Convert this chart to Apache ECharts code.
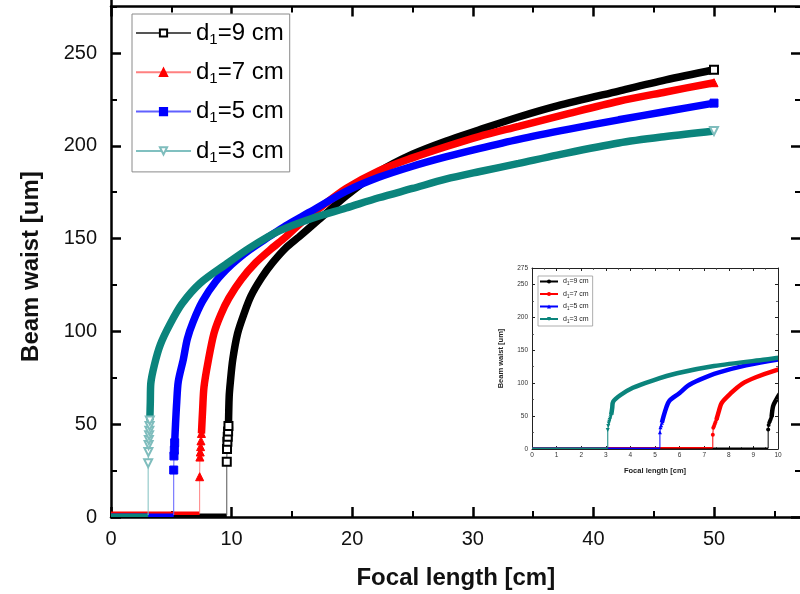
<!DOCTYPE html>
<html><head><meta charset="utf-8">
<script src="https://cdn.jsdelivr.net/npm/echarts@6/dist/echarts.min.js"></script>
<style>html,body{margin:0;padding:0;background:#fff}#c{width:800px;height:594px}</style>
</head><body><div id="c"></div>
<script>
// ---------- DATA ----------
const seriesKeys = ['d9', 'd7', 'd5', 'd3'];
const seriesDistances = ['9', '7', '5', '3'];
const xTitle = 'Focal length [cm]';
const yTitle = 'Beam waist [um]';

// d1 = 9 cm
const d9Flat = [[0, 1], [9.6, 1]];
const d9Jump = [[9.6, 1], [9.6, 29.8], [9.62, 36.6], [9.65, 40.6], [9.68, 43.3], [9.71, 46], [9.74, 49]];
const d9Band = [[9.74, 49], [9.8, 65], [9.9, 73], [10.1, 85], [10.5, 99], [11, 109], [11.6, 119], [12.5, 129], [13.4, 137], [14.5, 145], [15.6, 151], [17.2, 160], [19.5, 173], [22.2, 186], [25, 195.5], [27.75, 202.5], [30.5, 208.5], [33.8, 215.5], [37, 221.5], [42.1, 229.5], [46, 235.5], [50, 241]];
// d1 = 7 cm
const d7Flat = [[0, 2], [7.35, 2]];
const d7Jump = [[7.35, 2], [7.35, 21.7], [7.37, 32.3], [7.4, 35], [7.43, 37.9], [7.46, 41], [7.5, 45]];
const d7Band = [[7.5, 45], [7.6, 58], [7.71, 70], [8.06, 84], [8.54, 99], [9.1, 109], [9.78, 118], [10.8, 128], [12, 137], [13.2, 144], [14.5, 151], [16, 160], [17.2, 166], [19.5, 177], [22.2, 186.5], [25, 193.5], [27.75, 199.5], [30.5, 205], [33.8, 210.5], [38, 217.5], [42.1, 224], [46, 229], [50, 234]];
// d1 = 5 cm
const d5Flat = [[0, 1], [5.2, 1]];
const d5Jump = [[5.2, 1], [5.2, 25.3], [5.22, 32.9], [5.25, 36], [5.28, 40]];
const d5Band = [[5.28, 40], [5.35, 50], [5.45, 62], [5.58, 73], [6.0, 85], [6.33, 96], [6.8, 105], [7.57, 116], [8.7, 127], [10, 136], [11.5, 144], [13.1, 151], [14.5, 157], [16.4, 164], [19.5, 175.5], [22.2, 183], [25, 189], [27.75, 194], [30.5, 198.5], [33.8, 203.5], [38, 209], [42.1, 214], [46, 218.5], [50, 223]];
// d1 = 3 cm
const d3Flat = [[0, 1], [3.08, 1]];
const d3Jump = [[3.08, 1], [3.08, 29], [3.1, 35], [3.12, 38.8], [3.14, 41.5], [3.16, 44], [3.18, 46.5], [3.2, 49], [3.22, 52]];
const d3Band = [[3.22, 52], [3.26, 62], [3.3, 72], [3.6, 82], [4.1, 93], [4.9, 104], [5.9, 115], [7.4, 126], [9.5, 136], [11.5, 145], [13.9, 154], [16.7, 161], [19.5, 166.5], [22.2, 172], [25, 177], [27.75, 182], [30.5, 186], [33.8, 190.5], [37, 195], [42.1, 201.5], [46, 205], [50, 208]];

const dataSets = {
  d9: {flat: d9Flat, jump: d9Jump, band: d9Band},
  d7: {flat: d7Flat, jump: d7Jump, band: d7Band},
  d5: {flat: d5Flat, jump: d5Jump, band: d5Band},
  d3: {flat: d3Flat, jump: d3Jump, band: d3Band}
};

// ---------- STYLE ----------
const FONT = 'Liberation Sans';
const styles = {
  d9: {color: '#000000', light: '#555555', symbol: 'emptyRect', rot: 0, mColor: '#000000',
       iSymbol: 'circle', iRot: 0},
  d7: {color: '#ff0000', light: '#ff8080', symbol: 'triangle', rot: 0, mColor: '#ff0000',
       iSymbol: 'circle', iRot: 0},
  d5: {color: '#0000ff', light: '#6060ff', symbol: 'rect', rot: 0, mColor: '#0000ff',
       iSymbol: 'triangle', iRot: 0},
  d3: {color: '#0b847c', light: '#80c0c0', symbol: 'emptyTriangle', rot: 180, mColor: '#7fbdbd',
       iSymbol: 'triangle', iRot: 180}
};

function legendText(name) {
  const k = name.replace('i', 'd');
  const idx = seriesKeys.indexOf(k);
  return '{m|d}{s|1}{m|=' + seriesDistances[idx] + ' cm}';
}

const series = [];
seriesKeys.forEach(k => {
  const s = styles[k], d = dataSets[k];
  series.push({
    name: k + '_flat', type: 'line', xAxisIndex: 0, yAxisIndex: 0, data: d.flat,
    symbol: 'none', lineStyle: {color: s.color, width: 3.5}, animation: false, silent: true
  });
  series.push({
    name: k, type: 'line', xAxisIndex: 0, yAxisIndex: 0,
    data: d.jump.map((p, i) => i === 0 ? {value: p, symbol: 'none'} : p),
    symbol: s.symbol, symbolSize: 8, symbolRotate: s.rot, showSymbol: true,
    itemStyle: {color: s.mColor, borderColor: s.mColor, borderWidth: 1},
    lineStyle: {color: s.light, width: 1}, animation: false, silent: true
  });
  series.push({
    name: k + '_band', type: 'line', xAxisIndex: 0, yAxisIndex: 0,
    data: d.band.map((p, i) => i === d.band.length - 1 ?
      {value: p, symbol: s.symbol, symbolSize: 8, symbolRotate: s.rot,
       itemStyle: {color: s.mColor, borderColor: s.mColor}} : p),
    symbol: 'none', showSymbol: true, smooth: 0.3,
    lineStyle: {color: s.color, width: 7.5}, animation: false, silent: true
  });
});
seriesKeys.forEach(k => {
  const s = styles[k], d = dataSets[k];
  const ik = k.replace('d', 'i');
  series.push({
    name: ik + '_flat', type: 'line', xAxisIndex: 2, yAxisIndex: 2, data: d.flat,
    symbol: 'none', lineStyle: {color: s.color, width: 1.5}, animation: false, silent: true, clip: true
  });
  series.push({
    name: ik, type: 'line', xAxisIndex: 2, yAxisIndex: 2,
    data: d.jump.map((p, i) => i === 0 ? {value: p, symbol: 'none'} : p),
    symbol: s.iSymbol, symbolSize: 4, symbolRotate: s.iRot, showSymbol: true,
    itemStyle: {color: s.color}, lineStyle: {color: s.color, width: 1},
    animation: false, silent: true, clip: true
  });
  series.push({
    name: ik + '_band', type: 'line', xAxisIndex: 2, yAxisIndex: 2, data: d.band,
    symbol: 'none', smooth: 0.3, lineStyle: {color: s.color, width: 4.5},
    animation: false, silent: true, clip: true
  });
});

const mainAxisLine = {show: true, onZero: false, lineStyle: {color: '#000', width: 2.5}};
const mainTick = {show: true, inside: true, length: 10, lineStyle: {color: '#000', width: 2.5}};
const mainMinor = {show: true, splitNumber: 2, length: 6, lineStyle: {color: '#000', width: 2}};
const insetAxisLine = {show: true, onZero: false, lineStyle: {color: '#222', width: 1}};
const insetTick = {show: true, inside: true, length: 3, lineStyle: {color: '#222', width: 1}};
const insetMinor = {show: true, splitNumber: 2, length: 2, lineStyle: {color: '#444', width: 0.8}};

const option = {
  backgroundColor: '#fff',
  animation: false,
  grid: [
    {left: 111, top: -39.8, bottom: 77, right: -34.6, outerBoundsMode: 'none', containLabel: false},
    {left: 532, top: 268, width: 246, height: 181, outerBoundsMode: 'none', show: true, backgroundColor: '#fff', borderWidth: 0}
  ],
  graphic: [
    {type: 'rect', left: 779, top: 262, shape: {width: 8, height: 187}, style: {fill: '#fff'}, z: 50, silent: true}
  ],
  xAxis: [
    {type: 'value', gridIndex: 0, position: 'bottom', min: 0, max: 60, interval: 10,
     axisLine: mainAxisLine, axisTick: mainTick, minorTick: mainMinor, splitLine: {show: false},
     axisLabel: {fontFamily: FONT, fontSize: 20, color: '#111', margin: 12},
     name: xTitle, nameLocation: 'middle', nameGap: 49,
     nameTextStyle: {fontFamily: FONT, fontSize: 24, fontWeight: 'bold', color: '#111', padding: [0, 0, 0, -34]}},
    {type: 'value', gridIndex: 0, position: 'top', offset: -46.4, min: 0, max: 60, interval: 10,
     axisLine: mainAxisLine, axisTick: mainTick, minorTick: mainMinor, splitLine: {show: false},
     axisLabel: {show: false}},
    {type: 'value', gridIndex: 1, position: 'bottom', min: 0, max: 10, interval: 1,
     axisLine: insetAxisLine, axisTick: insetTick, minorTick: insetMinor, splitLine: {show: false},
     axisLabel: {fontFamily: FONT, fontSize: 6.5, color: '#333', margin: 3},
     name: xTitle, nameLocation: 'middle', nameGap: 18,
     nameTextStyle: {fontFamily: FONT, fontSize: 7.5, fontWeight: 'bold', color: '#222'}},
    {type: 'value', gridIndex: 1, position: 'top', min: 0, max: 10, interval: 1,
     axisLine: insetAxisLine, axisTick: insetTick, minorTick: insetMinor, splitLine: {show: false},
     axisLabel: {show: false}}
  ],
  yAxis: [
    {type: 'value', gridIndex: 0, position: 'left', min: 0, max: 300, interval: 50,
     axisLine: mainAxisLine, axisTick: mainTick, minorTick: mainMinor, splitLine: {show: false},
     axisLabel: {fontFamily: FONT, fontSize: 20, color: '#111', margin: 14},
     name: yTitle, nameLocation: 'middle', nameGap: 68, nameRotate: 90,
     nameTextStyle: {fontFamily: FONT, fontSize: 24, fontWeight: 'bold', color: '#111', padding: [0, 0, 0, -56]}},
    {type: 'value', gridIndex: 0, position: 'right', offset: -33.6, min: 0, max: 300, interval: 50,
     axisLine: mainAxisLine, axisTick: mainTick, minorTick: mainMinor, splitLine: {show: false},
     axisLabel: {show: false}},
    {type: 'value', gridIndex: 1, position: 'left', min: 0, max: 275, interval: 50,
     axisLine: insetAxisLine, axisTick: insetTick, minorTick: insetMinor, splitLine: {show: false},
     axisLabel: {fontFamily: FONT, fontSize: 6.5, color: '#333', margin: 4},
     name: yTitle, nameLocation: 'middle', nameGap: 27, nameRotate: 90,
     nameTextStyle: {fontFamily: FONT, fontSize: 7.5, fontWeight: 'bold', color: '#222'}},
    {type: 'value', gridIndex: 1, position: 'right', min: 0, max: 275, interval: 50,
     axisLine: insetAxisLine, axisTick: insetTick, minorTick: insetMinor, splitLine: {show: false},
     axisLabel: {show: false}, z: 60}
  ],
  legend: [
    {data: seriesKeys, orient: 'vertical', left: 132, top: 14,
     itemWidth: 55, itemHeight: 9, itemGap: 13.3,
     padding: [7, 6, 7, 3], borderColor: '#8a8a8a', borderWidth: 1, backgroundColor: '#fff',
     selectedMode: false, formatter: legendText,
     textStyle: {rich: {
       m: {fontFamily: FONT, fontSize: 24, color: '#000', lineHeight: 28},
       s: {fontFamily: FONT, fontSize: 15, color: '#000', lineHeight: 12, verticalAlign: 'bottom'}
     }}},
    {data: ['i9', 'i7', 'i5', 'i3'], orient: 'vertical', left: 538, top: 276,
     itemWidth: 18, itemHeight: 5, itemGap: 4,
     padding: [2, 4, 2, 1], borderColor: '#999', borderWidth: 0.8, backgroundColor: '#fff',
     selectedMode: false, formatter: legendText, z: 8,
     lineStyle: {width: 2},
     textStyle: {rich: {
       m: {fontFamily: FONT, fontSize: 7, color: '#222', lineHeight: 10},
       s: {fontFamily: FONT, fontSize: 4.5, color: '#222', lineHeight: 4, verticalAlign: 'bottom'}
     }}}
  ],
  series: series
};

const chart = echarts.init(document.getElementById('c'), null, {renderer: 'canvas'});
chart.setOption(option);
</script>
</body></html>
